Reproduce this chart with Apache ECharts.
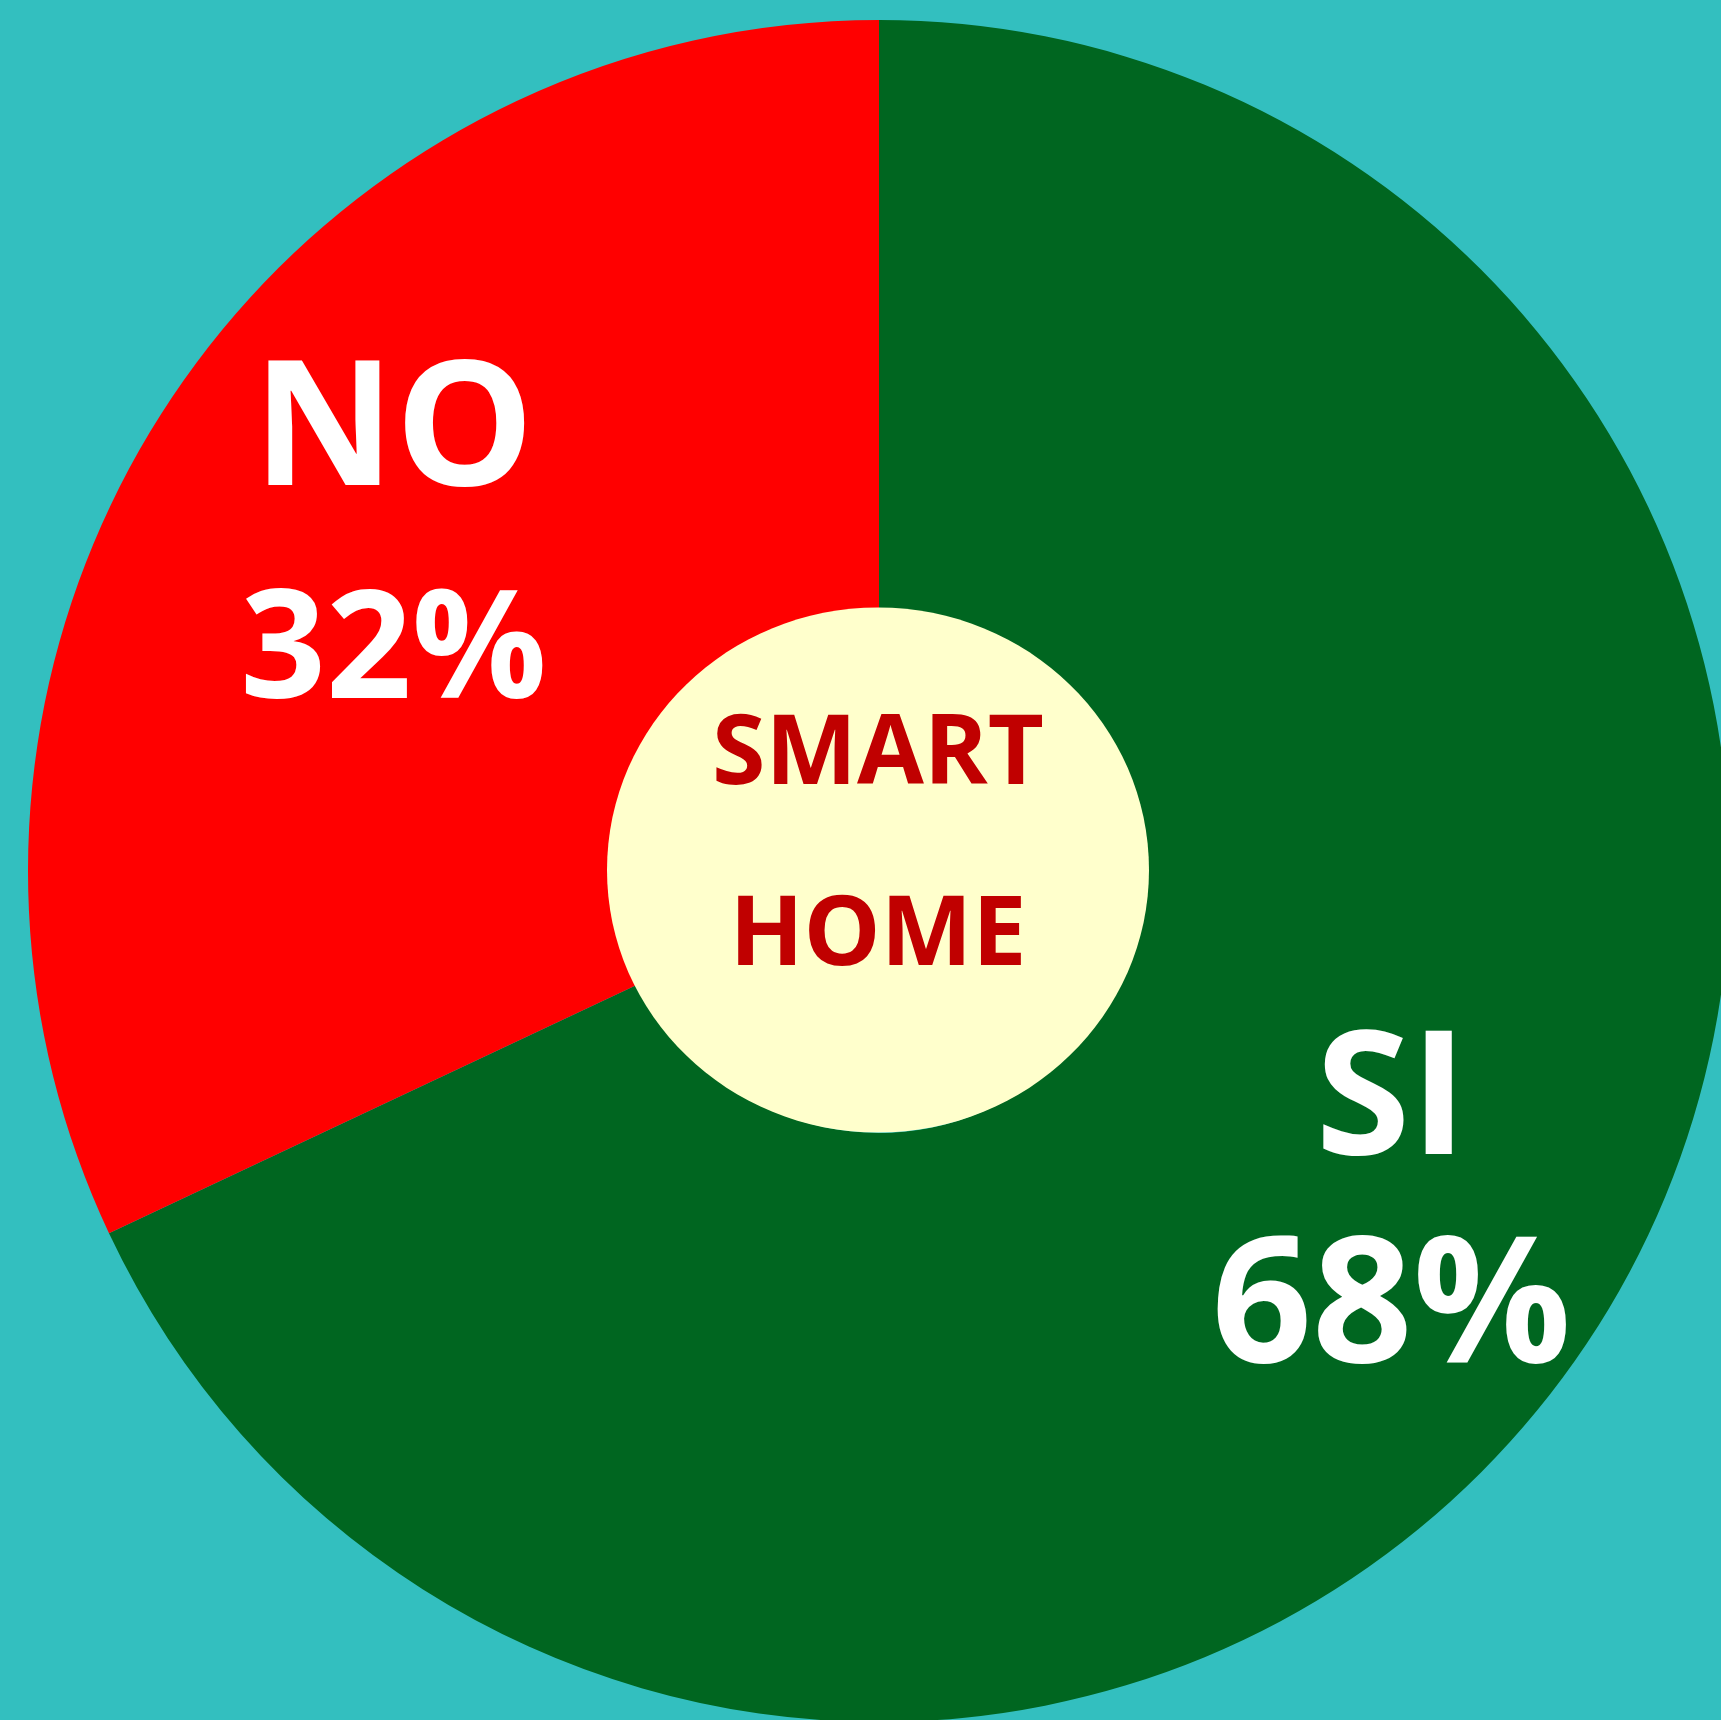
<!DOCTYPE html>
<html>
<head>
<meta charset="utf-8">
<title>Smart Home</title>
<script src="https://cdn.jsdelivr.net/npm/echarts@6/dist/echarts.min.js"></script>
<style>
  html, body { margin: 0; padding: 0; background: #33BFBF; }
  #chart { width: 1721px; height: 1720px; }
</style>
</head>
<body>
<div id="chart"></div>
<script>
// dati
const categories = ['SI', 'NO']
const values = [68, 32]
const sliceColors = ['#006620', '#FF0000']
const centerLines = ['SMART', 'HOME']

const FONT = "'Open Sans', 'Noto Sans', sans-serif"

// stile delle etichette per fetta
const labelStyles = [
  { nameSize: 172, valueSize: 176, lineHeight: 207, dx: 40, dy: 38 },
  { nameSize: 175, valueSize: 150, lineHeight: 220, dx: -13, dy: -26 }
]

const chart = echarts.init(document.getElementById('chart'))

const option = {
  backgroundColor: '#33BFBF',
  animation: false,
  series: [
    {
      type: 'pie',
      center: [879, 871],
      radius: [262, 851],
      startAngle: 90,
      clockwise: true,
      silent: true,
      itemStyle: { borderWidth: 0 },
      label: {
        show: true,
        position: 'inside',
        formatter: '{n|{b}}\n{v|{c}%}'
      },
      labelLine: { show: false },
      labelLayout: (params) => ({
        dx: labelStyles[params.dataIndex].dx,
        dy: labelStyles[params.dataIndex].dy
      }),
      data: categories.map((name, i) => ({
        name: name,
        value: values[i],
        itemStyle: { color: sliceColors[i] },
        label: {
          rich: {
            n: {
              color: '#fff',
              fontFamily: FONT,
              fontWeight: 'bold',
              fontSize: labelStyles[i].nameSize,
              lineHeight: labelStyles[i].lineHeight
            },
            v: {
              color: '#fff',
              fontFamily: FONT,
              fontWeight: 'bold',
              fontSize: labelStyles[i].valueSize,
              lineHeight: labelStyles[i].lineHeight
            }
          }
        }
      }))
    }
  ],
  graphic: [
    {
      type: 'ellipse',
      shape: { cx: 878, cy: 870, rx: 271, ry: 262.5 },
      style: { fill: '#FFFFCC' },
      z: 10
    },
    {
      type: 'text',
      x: 878,
      y: 847,
      z: 11,
      style: {
        text: centerLines.join('\n'),
        fill: '#C00000',
        font: 'bold 97px ' + FONT,
        lineHeight: 181,
        align: 'center',
        verticalAlign: 'middle'
      }
    }
  ]
}

chart.setOption(option)
</script>
</body>
</html>
